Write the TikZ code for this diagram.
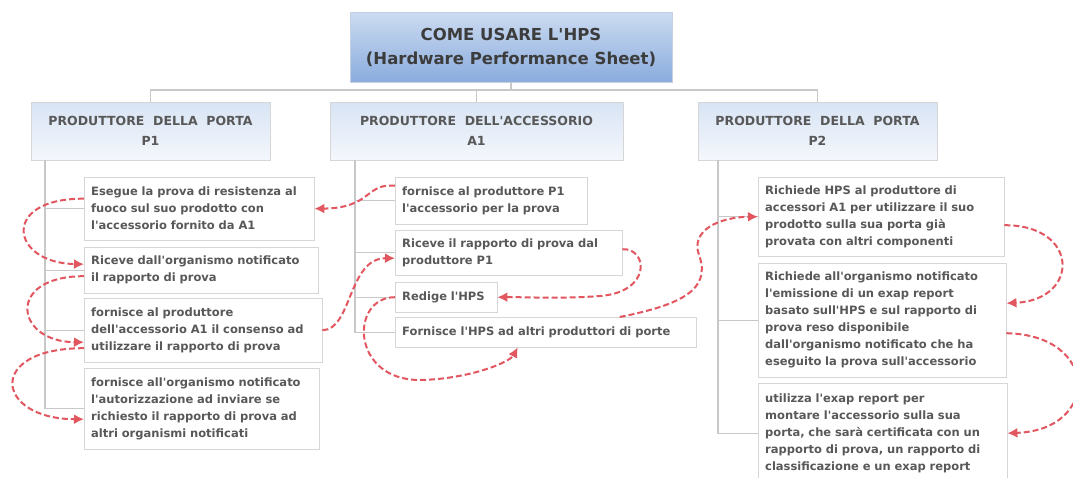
\documentclass[tikz,border=0pt]{standalone}
\usepackage{fontspec}
\setmainfont{DejaVu Sans}[Ligatures=TeXOff]
\usetikzlibrary{arrows.meta}
\definecolor{linegray}{RGB}{200,200,200}
\definecolor{boxgray}{RGB}{214,214,214}
\definecolor{textgray}{RGB}{88,88,88}
\definecolor{titletext}{RGB}{60,60,60}
\definecolor{titletop}{RGB}{204,219,241}
\definecolor{titlebot}{RGB}{138,172,221}
\definecolor{headtop}{RGB}{216,228,244}
\definecolor{headbot}{RGB}{244,247,252}
\definecolor{flowred}{RGB}{226,86,96}

\begin{document}
\begin{tikzpicture}[x=1pt,y=-1pt,
   title/.style={draw=titlebot!80!black!40, top color=titletop, bottom color=titlebot,
      minimum width=322, minimum height=70, align=center, text=titletext,
      font=\bfseries\fontsize{16.5}{24}\selectfont},
   head/.style={draw=boxgray, top color=headtop, bottom color=headbot,
      minimum width=239, minimum height=58, align=center, text=textgray,
      font=\bfseries\fontsize{12.5}{20}\selectfont},
   item/.style={draw=boxgray, fill=white, anchor=north west, align=left,
      inner xsep=7, inner ysep=0, text=textgray,
      font=\bfseries\fontsize{11.5}{17}\selectfont},
   branch/.style={draw=linegray, line width=1.2},
   flow/.style={draw=flowred, line width=2, dash pattern=on 6pt off 3pt,
      -{Latex[length=10pt,width=10pt]}}]
\fill[white] (0,0) rectangle (1073,477);
\useasboundingbox (0,0) rectangle (1073,477);

\node[title] (hps) at (511,47) {COME USARE L'HPS\\(Hardware Performance Sheet)};

\node[head] (p1) at (150.5,131) {PRODUTTORE\ \ DELLA\ \ PORTA\\P1};
\node[head, minimum width=293] (a1) at (476.5,131) {PRODUTTORE\ \ DELL'ACCESSORIO\\A1};
\node[head] (p2) at (817.5,131) {PRODUTTORE\ \ DELLA\ \ PORTA\\P2};

\coordinate (bus) at (0,90);
\draw[branch] (hps.south) -- (hps.south |- bus);
\draw[branch] (p1.north) |- (p2.north |- bus) -- (p2.north);
\draw[branch] (a1.north) -- (a1.north |- bus);

\node[item, text width=216, minimum height=63] (c1) at (84,177)
   {Esegue la prova di resistenza al\\fuoco sul suo prodotto con\\l'accessorio fornito da A1};
\node[item, text width=220, minimum height=46] (c2) at (84,247)
   {Riceve dall'organismo notificato\\il rapporto di prova};
\node[item, text width=224, minimum height=64] (c3) at (84,298)
   {fornisce al produttore\\dell'accessorio A1 il consenso ad\\utilizzare il rapporto di prova};
\node[item, text width=221, minimum height=81] (c4) at (84,368)
   {fornisce all'organismo notificato\\l'autorizzazione ad inviare se\\richiesto il rapporto di prova ad\\altri organismi notificati};

\node[item, text width=178, minimum height=47] (d1) at (395,177)
   {fornisce al produttore P1\\l'accessorio per la prova};
\node[item, text width=213, minimum height=45] (d2) at (395,230)
   {Riceve il rapporto di prova dal\\produttore P1};
\node[item, text width=88, minimum height=30] (d3) at (395,282) {Redige l'HPS};
\node[item, text width=287, minimum height=30] (d4) at (395,317)
   {Fornisce l'HPS ad altri produttori di porte};

\node[item, text width=232, minimum height=79] (e1) at (758,177)
   {Richiede HPS al produttore di\\accessori A1 per utilizzare il suo\\prodotto sulla sua porta già\\provata con altri componenti};
\node[item, text width=234, minimum height=114] (e2) at (758,263)
   {Richiede all'organismo notificato\\l'emissione di un exap report\\basato sull'HPS e sul rapporto di\\prova reso disponibile\\dall'organismo notificato che ha\\eseguito la prova sull'accessorio};
\node[item, text width=235, minimum height=100] (e3) at (758,383)
   {utilizza l'exap report per\\montare l'accessorio sulla sua\\porta, che sarà certificata con un\\rapporto di prova, un rapporto di\\classificazione e un exap report};

\coordinate (x1) at (45,0);
\coordinate (x2) at (355,0);
\coordinate (x3) at (718,0);
\draw[branch] (x1 |- p1.south) |- (c4.west);
\foreach \n in {c1,c2,c3} \draw[branch] (x1 |- \n.west) -- (\n.west);
\draw[branch] (x2 |- a1.south) |- (d4.west);
\foreach \n in {d1,d2,d3} \draw[branch] (x2 |- \n.west) -- (\n.west);
\draw[branch] (x3 |- p2.south) |- (e3.west);
\foreach \n in {e1,e2} \draw[branch] (x3 |- \n.west) -- (\n.west);

\draw[flow] ([yshift=15pt]d1.west) .. controls (365,183) and (372,208) .. (c1.east);
\draw[flow] ([yshift=10pt]c1.west) .. controls (0,198) and (10,263) .. ([yshift=6pt]c2.west);
\draw[flow] ([yshift=-6pt]c2.west) .. controls (5,276) and (15,342) .. ([yshift=-12pt]c3.west);
\draw[flow] ([yshift=-18pt]c3.west) .. controls (-15,348) and (-5,419) .. ([yshift=-10.5pt]c4.west);
\draw[flow] (c3.east) .. controls (352,330) and (348,258) .. ([yshift=-5.5pt]d2.west);
\draw[flow] ([yshift=3.5pt]d2.east) .. controls (648,248) and (652,292) .. (600,296)
   .. controls (560,299) and (530,297) .. (d3.east);
\draw[flow] (d3.west) .. controls (350,297) and (350,380) .. (420,380)
   .. controls (470,379) and (510,362) .. ([xshift=-28pt]d4.south);
\draw[flow] ([xshift=74pt]d4.north) .. controls (680,305) and (712,290) .. (699,255)
   .. controls (690,230) and (720,217) .. (e1.west);
\draw[flow] ([yshift=-8.5pt]e1.east) .. controls (1080,225) and (1080,300) .. ([yshift=17pt]e2.east);
\draw[flow] ([yshift=-13pt]e2.east) .. controls (1100,335) and (1100,430) .. (e3.east);
\end{tikzpicture}
\end{document}
